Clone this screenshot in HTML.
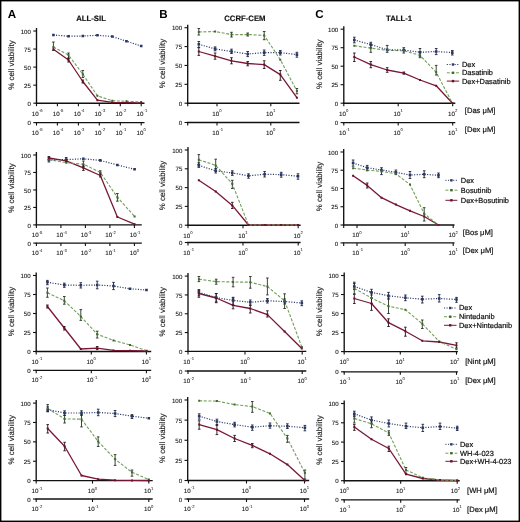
<!DOCTYPE html>
<html><head><meta charset="utf-8">
<style>
html,body{margin:0;padding:0;background:#fff;}
svg{display:block;filter:blur(0.3px);}
text{font-family:"Liberation Sans", sans-serif;fill:#111;text-rendering:geometricPrecision;}
.ax{stroke:#111;stroke-width:1.35;fill:none;}
.tk{stroke:#111;stroke-width:1.1;fill:none;}
.yl{font-size:6.1px;text-anchor:end;fill:#111;stroke:#222;stroke-width:0.1px;}
.xl{font-size:6.2px;fill:#111;stroke:#222;stroke-width:0.1px;}
.sp{font-size:4.2px;stroke-width:0.05px;fill:#333;}
.ylab{font-size:7.95px;text-anchor:middle;fill:#222;stroke:#222;stroke-width:0.15px;}
.lg{font-size:7.45px;fill:#111;stroke:#111;stroke-width:0.2px;}
.un{font-size:7.6px;fill:#111;stroke:#111;stroke-width:0.2px;}
.gr{stroke:#749e5a;stroke-width:1.1;fill:none;stroke-dasharray:3 1.6;}
.bl{stroke:#2a3766;stroke-width:1.2;fill:none;stroke-dasharray:1.1 1.5;}
.rd{stroke:#7a1836;stroke-width:1.3;fill:none;stroke-linejoin:round;}
.eb{stroke:#161a18;stroke-width:0.9;fill:none;}
.ttl{font-size:7.75px;font-weight:bold;fill:#111;stroke:#111;stroke-width:0.15px;}
.let{font-size:11.6px;font-weight:bold;fill:#000;}
</style></head>
<body>
<svg width="520" height="522" viewBox="0 0 520 522">
<rect x="0" y="0" width="520" height="522" fill="#fff"/>
<rect x="0.6" y="0.6" width="518.8" height="520.8" fill="none" stroke="#000" stroke-width="1.6"/>
<text x="7.8" y="17.6" class="let">A</text>
<text x="159.3" y="17.7" class="let">B</text>
<text x="315.3" y="17.7" class="let">C</text>
<text x="76.2" y="21.0" class="ttl">ALL-SIL</text>
<text x="224.2" y="21.3" class="ttl">CCRF-CEM</text>
<text x="386.0" y="21.4" class="ttl">TALL-1</text>
<path d="M36.5 28V103.2" class="ax"/>
<path d="M33.3 103.2H36.5" class="tk"/>
<text x="30.9" y="105.8" class="yl">0</text>
<path d="M33.3 85.15H36.5" class="tk"/>
<text x="30.9" y="87.75" class="yl">25</text>
<path d="M33.3 67.1H36.5" class="tk"/>
<text x="30.9" y="69.7" class="yl">50</text>
<path d="M33.3 49.05H36.5" class="tk"/>
<text x="30.9" y="51.65" class="yl">75</text>
<path d="M33.3 31H36.5" class="tk"/>
<text x="30.9" y="33.6" class="yl">100</text>
<path d="M35.7 103.2H144.5" class="ax"/>
<path d="M36.5 103.2V106.2" class="tk"/>
<text x="31.8" y="115.6" class="xl">10<tspan dx="0.1" dy="-3.5" class="sp">-6</tspan></text>
<path d="M57.4 103.2V106.2" class="tk"/>
<text x="52.7" y="115.6" class="xl">10<tspan dx="0.1" dy="-3.5" class="sp">-5</tspan></text>
<path d="M78.4 103.2V106.2" class="tk"/>
<text x="73.7" y="115.6" class="xl">10<tspan dx="0.1" dy="-3.5" class="sp">-4</tspan></text>
<path d="M99.3 103.2V106.2" class="tk"/>
<text x="94.6" y="115.6" class="xl">10<tspan dx="0.1" dy="-3.5" class="sp">-3</tspan></text>
<path d="M120.3 103.2V106.2" class="tk"/>
<text x="115.6" y="115.6" class="xl">10<tspan dx="0.1" dy="-3.5" class="sp">-2</tspan></text>
<path d="M141.2 103.2V106.2" class="tk"/>
<text x="136.5" y="115.6" class="xl">10<tspan dx="0.1" dy="-3.5" class="sp">-1</tspan></text>
<path d="M35.7 122.6H144.5" class="ax"/>
<path d="M33.3 122.6H36.5" class="tk"/>
<text x="30.9" y="125.2" class="yl">0</text>
<path d="M36.5 122.6V125.6" class="tk"/>
<text x="31.8" y="134.6" class="xl">10<tspan dx="0.1" dy="-3.5" class="sp">-5</tspan></text>
<path d="M57.4 122.6V125.6" class="tk"/>
<text x="52.7" y="134.6" class="xl">10<tspan dx="0.1" dy="-3.5" class="sp">-4</tspan></text>
<path d="M78.4 122.6V125.6" class="tk"/>
<text x="73.7" y="134.6" class="xl">10<tspan dx="0.1" dy="-3.5" class="sp">-3</tspan></text>
<path d="M99.3 122.6V125.6" class="tk"/>
<text x="94.6" y="134.6" class="xl">10<tspan dx="0.1" dy="-3.5" class="sp">-2</tspan></text>
<path d="M120.3 122.6V125.6" class="tk"/>
<text x="115.6" y="134.6" class="xl">10<tspan dx="0.1" dy="-3.5" class="sp">-1</tspan></text>
<path d="M141.2 122.6V125.6" class="tk"/>
<text x="136.5" y="134.6" class="xl">10<tspan dx="0.1" dy="-3.5" class="sp">0</tspan></text>
<text transform="translate(13.7 65.1) rotate(-90)" class="ylab">% cell viability</text>
<polyline points="53.4,49.2 68.5,60 82.8,81.5 97.4,100.2 112.3,102.4 126.5,102.7 141.2,103" class="rd"/>
<polyline points="53.4,47 68.5,55 82.8,74.2 97.4,95.8 112.3,100.8 126.5,101.3 141.2,102" class="gr"/>
<polyline points="53.4,35 68.5,36.2 82.8,36 97.4,35.3 112.3,36.5 126.5,41.2 141.2,46" class="bl"/>
<path d="M53.4 42V50.5M52.1 42h2.6M52.1 50.5h2.6M68.5 53V58.5M67.2 53h2.6M67.2 58.5h2.6M82.8 70.5V77.5M81.5 70.5h2.6M81.5 77.5h2.6" class="eb" style="stroke:#263224"/>
<path d="M68.5 58V62M67.2 58h2.6M67.2 62h2.6M82.8 80V83M81.5 80h2.6M81.5 83h2.6" class="eb" style="stroke:#2a1418"/>
<path d="M52.1 33.7h2.6v2.6h-2.6zM67.2 34.9h2.6v2.6h-2.6zM81.5 34.7h2.6v2.6h-2.6zM96.1 34h2.6v2.6h-2.6zM111 35.2h2.6v2.6h-2.6zM125.2 39.9h2.6v2.6h-2.6zM139.9 44.7h2.6v2.6h-2.6z" fill="#2a3766" stroke="none"/>
<path d="M52.4 46h2v2h-2zM67.5 54h2v2h-2zM81.8 73.2h2v2h-2zM96.4 94.8h2v2h-2zM111.3 99.8h2v2h-2zM125.5 100.3h2v2h-2zM140.2 101h2v2h-2z" fill="#3e6a2c" stroke="none"/>
<path d="M52.4 48.2h2v2h-2zM67.5 59h2v2h-2zM81.8 80.5h2v2h-2zM96.4 99.2h2v2h-2zM111.3 101.4h2v2h-2zM125.5 101.7h2v2h-2zM140.2 102h2v2h-2z" fill="#6a1028" stroke="none"/>
<path d="M187.7 24.7V103.2" class="ax"/>
<path d="M184.5 103.2H187.7" class="tk"/>
<text x="182.1" y="105.8" class="yl">0</text>
<path d="M184.5 84.33H187.7" class="tk"/>
<text x="182.1" y="86.92" class="yl">25</text>
<path d="M184.5 65.45H187.7" class="tk"/>
<text x="182.1" y="68.05" class="yl">50</text>
<path d="M184.5 46.58H187.7" class="tk"/>
<text x="182.1" y="49.18" class="yl">75</text>
<path d="M184.5 27.7H187.7" class="tk"/>
<text x="182.1" y="30.3" class="yl">100</text>
<path d="M186.9 103.2H299.5" class="ax"/>
<path d="M187.7 103.2V106.2" class="tk"/>
<path d="M217 103.2V106.2" class="tk"/>
<text x="212.3" y="115.6" class="xl">10<tspan dx="0.1" dy="-3.5" class="sp">0</tspan></text>
<path d="M270.8 103.2V106.2" class="tk"/>
<text x="266.1" y="115.6" class="xl">10<tspan dx="0.1" dy="-3.5" class="sp">1</tspan></text>
<path d="M186.9 122.5H299.5" class="ax"/>
<path d="M184.5 122.5H187.7" class="tk"/>
<text x="182.1" y="125.1" class="yl">0</text>
<path d="M187.7 122.5V125.5" class="tk"/>
<path d="M217 122.5V125.5" class="tk"/>
<text x="212.3" y="134.5" class="xl">10<tspan dx="0.1" dy="-3.5" class="sp">-1</tspan></text>
<path d="M270.8 122.5V125.5" class="tk"/>
<text x="266.1" y="134.5" class="xl">10<tspan dx="0.1" dy="-3.5" class="sp">0</tspan></text>
<text transform="translate(165.4 63.45) rotate(-90)" class="ylab">% cell viability</text>
<polyline points="198.8,51.5 215.1,56.2 231.5,60.8 247.7,63.5 264.2,64.6 280.3,74.6 296.9,97.7" class="rd"/>
<polyline points="198.8,32 215.1,31.5 231.5,34.6 247.7,34.6 264.2,35.4 280.3,59.7 296.9,91" class="gr"/>
<polyline points="198.8,44.3 215.1,48.9 231.5,51.5 247.7,54 264.2,52.6 280.3,52.6 296.9,54.6" class="bl"/>
<path d="M198.8 28.5V35M197.5 28.5h2.6M197.5 35h2.6M231.5 32.3V37M230.2 32.3h2.6M230.2 37h2.6M247.7 33V36M246.4 33h2.6M246.4 36h2.6M264.2 31.5V39.7M262.9 31.5h2.6M262.9 39.7h2.6M296.9 88.5V93.8M295.6 88.5h2.6M295.6 93.8h2.6" class="eb" style="stroke:#263224"/>
<path d="M198.8 41.5V47.4M197.5 41.5h2.6M197.5 47.4h2.6M215.1 46.9V50.8M213.8 46.9h2.6M213.8 50.8h2.6M231.5 49.2V53.5M230.2 49.2h2.6M230.2 53.5h2.6M247.7 51.5V56.6M246.4 51.5h2.6M246.4 56.6h2.6M264.2 50V55.4M262.9 50h2.6M262.9 55.4h2.6M280.3 50.5V55M279 50.5h2.6M279 55h2.6M296.9 52.3V57.2M295.6 52.3h2.6M295.6 57.2h2.6" class="eb" style="stroke:#1e2440"/>
<path d="M198.8 47.7V55.4M197.5 47.7h2.6M197.5 55.4h2.6M215.1 53V59.2M213.8 53h2.6M213.8 59.2h2.6M231.5 57.7V63.8M230.2 57.7h2.6M230.2 63.8h2.6M247.7 61.5V65.8M246.4 61.5h2.6M246.4 65.8h2.6M264.2 60.8V68.5M262.9 60.8h2.6M262.9 68.5h2.6M280.3 70.5V80.3M279 70.5h2.6M279 80.3h2.6" class="eb" style="stroke:#2a1418"/>
<path d="M197.5 43h2.6v2.6h-2.6zM213.8 47.6h2.6v2.6h-2.6zM230.2 50.2h2.6v2.6h-2.6zM246.4 52.7h2.6v2.6h-2.6zM262.9 51.3h2.6v2.6h-2.6zM279 51.3h2.6v2.6h-2.6zM295.6 53.3h2.6v2.6h-2.6z" fill="#2a3766" stroke="none"/>
<path d="M197.8 31h2v2h-2zM214.1 30.5h2v2h-2zM230.5 33.6h2v2h-2zM246.7 33.6h2v2h-2zM263.2 34.4h2v2h-2zM279.3 58.7h2v2h-2zM295.9 90h2v2h-2z" fill="#3e6a2c" stroke="none"/>
<path d="M197.8 50.5h2v2h-2zM214.1 55.2h2v2h-2zM230.5 59.8h2v2h-2zM246.7 62.5h2v2h-2zM263.2 63.6h2v2h-2zM279.3 73.6h2v2h-2zM295.9 96.7h2v2h-2z" fill="#6a1028" stroke="none"/>
<path d="M343.8 26.2V103.2" class="ax"/>
<path d="M340.6 103.2H343.8" class="tk"/>
<text x="338.2" y="105.8" class="yl">0</text>
<path d="M340.6 84.7H343.8" class="tk"/>
<text x="338.2" y="87.3" class="yl">25</text>
<path d="M340.6 66.2H343.8" class="tk"/>
<text x="338.2" y="68.8" class="yl">50</text>
<path d="M340.6 47.7H343.8" class="tk"/>
<text x="338.2" y="50.3" class="yl">75</text>
<path d="M340.6 29.2H343.8" class="tk"/>
<text x="338.2" y="31.8" class="yl">100</text>
<path d="M343 103.2H455.3" class="ax"/>
<path d="M343.8 103.2V106.2" class="tk"/>
<text x="339.1" y="115.6" class="xl">10<tspan dx="0.1" dy="-3.5" class="sp">0</tspan></text>
<path d="M398.2 103.2V106.2" class="tk"/>
<text x="393.5" y="115.6" class="xl">10<tspan dx="0.1" dy="-3.5" class="sp">1</tspan></text>
<path d="M452.7 103.2V106.2" class="tk"/>
<text x="448" y="115.6" class="xl">10<tspan dx="0.1" dy="-3.5" class="sp">2</tspan></text>
<path d="M343 122.6H455.3" class="ax"/>
<path d="M340.6 122.6H343.8" class="tk"/>
<text x="338.2" y="125.2" class="yl">0</text>
<path d="M343.8 122.6V125.6" class="tk"/>
<text x="339.1" y="134.6" class="xl">10<tspan dx="0.1" dy="-3.5" class="sp">-1</tspan></text>
<path d="M398.2 122.6V125.6" class="tk"/>
<text x="393.5" y="134.6" class="xl">10<tspan dx="0.1" dy="-3.5" class="sp">0</tspan></text>
<path d="M452.7 122.6V125.6" class="tk"/>
<text x="448" y="134.6" class="xl">10<tspan dx="0.1" dy="-3.5" class="sp">1</tspan></text>
<text transform="translate(321.9 64.2) rotate(-90)" class="ylab">% cell viability</text>
<polyline points="354.3,57 370.8,64.6 387.2,70 403.8,73.1 420,80 436.2,85.8 452.3,103" class="rd"/>
<polyline points="354.3,45.7 370.8,48.2 387.2,50.3 403.8,50.8 420,55.4 436.2,72.3 452.3,103" class="gr"/>
<polyline points="354.3,40 370.8,44.6 387.2,49.7 403.8,50 420,52.3 436.2,51.5 452.3,52.6" class="bl"/>
<path d="M370.8 44.6V52.3M369.5 44.6h2.6M369.5 52.3h2.6M420 51.5V57.7M418.7 51.5h2.6M418.7 57.7h2.6M436.2 65.4V75M434.9 65.4h2.6M434.9 75h2.6" class="eb" style="stroke:#263224"/>
<path d="M354.3 37.2V42.8M353 37.2h2.6M353 42.8h2.6M370.8 42.3V47.7M369.5 42.3h2.6M369.5 47.7h2.6M387.2 45.4V52.3M385.9 45.4h2.6M385.9 52.3h2.6M403.8 47.7V53M402.5 47.7h2.6M402.5 53h2.6M420 48.5V56.2M418.7 48.5h2.6M418.7 56.2h2.6M436.2 48.5V54.6M434.9 48.5h2.6M434.9 54.6h2.6M452.3 50.5V55M451 50.5h2.6M451 55h2.6" class="eb" style="stroke:#1e2440"/>
<path d="M354.3 53V61.5M353 53h2.6M353 61.5h2.6M370.8 61.5V67.7M369.5 61.5h2.6M369.5 67.7h2.6M387.2 67.7V72.3M385.9 67.7h2.6M385.9 72.3h2.6M403.8 72V74.2M402.5 72h2.6M402.5 74.2h2.6" class="eb" style="stroke:#2a1418"/>
<path d="M353 38.7h2.6v2.6h-2.6zM369.5 43.3h2.6v2.6h-2.6zM385.9 48.4h2.6v2.6h-2.6zM402.5 48.7h2.6v2.6h-2.6zM418.7 51h2.6v2.6h-2.6zM434.9 50.2h2.6v2.6h-2.6zM451 51.3h2.6v2.6h-2.6z" fill="#2a3766" stroke="none"/>
<path d="M353.3 44.7h2v2h-2zM369.8 47.2h2v2h-2zM386.2 49.3h2v2h-2zM402.8 49.8h2v2h-2zM419 54.4h2v2h-2zM435.2 71.3h2v2h-2zM451.3 102h2v2h-2z" fill="#3e6a2c" stroke="none"/>
<path d="M353.3 56h2v2h-2zM369.8 63.6h2v2h-2zM386.2 69h2v2h-2zM402.8 72.1h2v2h-2zM419 79h2v2h-2zM435.2 84.8h2v2h-2zM451.3 102h2v2h-2z" fill="#6a1028" stroke="none"/>
<path d="M446.8 64.5H459.2" class="bl" style="stroke-width:1.0"/>
<path d="M451.8 63.3h2.4v2.4h-2.4z" fill="#2a3766" stroke="none"/>
<text x="462" y="66.9" class="lg">Dex</text>
<path d="M446.8 72.8H459.2" class="gr" style="stroke-width:1.0"/>
<path d="M451.8 71.6h2.4v2.4h-2.4z" fill="#3e6a2c" stroke="none"/>
<text x="462" y="75.2" class="lg">Dasatinib</text>
<path d="M446.8 81.1H459.2" class="rd" style="stroke-width:1.0"/>
<path d="M451.8 79.9h2.4v2.4h-2.4z" fill="#6a1028" stroke="none"/>
<text x="462" y="83.5" class="lg">Dex+Dasatinib</text>
<text x="464.8" y="112.9" class="un">[Das μM]</text>
<text x="464.8" y="132" class="un">[Dex μM]</text>
<path d="M36.4 152V224.9" class="ax"/>
<path d="M33.2 224.9H36.4" class="tk"/>
<text x="30.8" y="227.5" class="yl">0</text>
<path d="M33.2 207.43H36.4" class="tk"/>
<text x="30.8" y="210.03" class="yl">25</text>
<path d="M33.2 189.95H36.4" class="tk"/>
<text x="30.8" y="192.55" class="yl">50</text>
<path d="M33.2 172.48H36.4" class="tk"/>
<text x="30.8" y="175.08" class="yl">75</text>
<path d="M33.2 155H36.4" class="tk"/>
<text x="30.8" y="157.6" class="yl">100</text>
<path d="M35.6 224.9H141.8" class="ax"/>
<path d="M36.4 224.9V227.9" class="tk"/>
<text x="31.7" y="237.3" class="xl">10<tspan dx="0.1" dy="-3.5" class="sp">-5</tspan></text>
<path d="M60.9 224.9V227.9" class="tk"/>
<text x="56.2" y="237.3" class="xl">10<tspan dx="0.1" dy="-3.5" class="sp">-4</tspan></text>
<path d="M85.4 224.9V227.9" class="tk"/>
<text x="80.7" y="237.3" class="xl">10<tspan dx="0.1" dy="-3.5" class="sp">-3</tspan></text>
<path d="M109.9 224.9V227.9" class="tk"/>
<text x="105.2" y="237.3" class="xl">10<tspan dx="0.1" dy="-3.5" class="sp">-2</tspan></text>
<path d="M134.4 224.9V227.9" class="tk"/>
<text x="129.7" y="237.3" class="xl">10<tspan dx="0.1" dy="-3.5" class="sp">-1</tspan></text>
<path d="M35.6 243.1H141.8" class="ax"/>
<path d="M33.2 243.1H36.4" class="tk"/>
<text x="30.8" y="245.7" class="yl">0</text>
<path d="M36.4 243.1V246.1" class="tk"/>
<text x="31.7" y="255.1" class="xl">10<tspan dx="0.1" dy="-3.5" class="sp">-4</tspan></text>
<path d="M60.9 243.1V246.1" class="tk"/>
<text x="56.2" y="255.1" class="xl">10<tspan dx="0.1" dy="-3.5" class="sp">-3</tspan></text>
<path d="M85.4 243.1V246.1" class="tk"/>
<text x="80.7" y="255.1" class="xl">10<tspan dx="0.1" dy="-3.5" class="sp">-2</tspan></text>
<path d="M109.9 243.1V246.1" class="tk"/>
<text x="105.2" y="255.1" class="xl">10<tspan dx="0.1" dy="-3.5" class="sp">-1</tspan></text>
<path d="M134.4 243.1V246.1" class="tk"/>
<text x="129.7" y="255.1" class="xl">10<tspan dx="0.1" dy="-3.5" class="sp">0</tspan></text>
<text transform="translate(13.7 187.95) rotate(-90)" class="ylab">% cell viability</text>
<polyline points="48.9,158 66.2,160.8 83.4,167.8 100.3,175.5 117.4,217 134.6,224.2" class="rd"/>
<polyline points="48.9,159.6 66.2,162.7 83.4,164.2 100.3,172.4 117.4,197.3 134.6,216.5" class="gr"/>
<polyline points="48.9,159.9 66.2,159.6 83.4,158.8 100.3,160.4 117.4,165 134.6,169.3" class="bl"/>
<path d="M83.4 161V166.5M82.1 161h2.6M82.1 166.5h2.6M100.3 170.8V174.2M99 170.8h2.6M99 174.2h2.6M117.4 193.5V201.2M116.1 193.5h2.6M116.1 201.2h2.6" class="eb" style="stroke:#263224"/>
<path d="M48.9 157.5V162M47.6 157.5h2.6M47.6 162h2.6M66.2 157.5V161.5M64.9 157.5h2.6M64.9 161.5h2.6" class="eb" style="stroke:#1e2440"/>
<path d="M48.9 156.5V159.6M47.6 156.5h2.6M47.6 159.6h2.6M83.4 165V170.4M82.1 165h2.6M82.1 170.4h2.6M100.3 173V177M99 173h2.6M99 177h2.6" class="eb" style="stroke:#2a1418"/>
<path d="M47.6 158.6h2.6v2.6h-2.6zM64.9 158.3h2.6v2.6h-2.6zM82.1 157.5h2.6v2.6h-2.6zM99 159.1h2.6v2.6h-2.6zM116.1 163.7h2.6v2.6h-2.6zM133.3 168h2.6v2.6h-2.6z" fill="#2a3766" stroke="none"/>
<path d="M47.9 158.6h2v2h-2zM65.2 161.7h2v2h-2zM82.4 163.2h2v2h-2zM99.3 171.4h2v2h-2zM116.4 196.3h2v2h-2zM133.6 215.5h2v2h-2z" fill="#3e6a2c" stroke="none"/>
<path d="M47.9 157h2v2h-2zM65.2 159.8h2v2h-2zM82.4 166.8h2v2h-2zM99.3 174.5h2v2h-2zM116.4 216h2v2h-2zM133.6 223.2h2v2h-2z" fill="#6a1028" stroke="none"/>
<path d="M188 147V225.2" class="ax"/>
<path d="M184.8 225.2H188" class="tk"/>
<text x="182.4" y="227.8" class="yl">0</text>
<path d="M184.8 206.4H188" class="tk"/>
<text x="182.4" y="209" class="yl">25</text>
<path d="M184.8 187.6H188" class="tk"/>
<text x="182.4" y="190.2" class="yl">50</text>
<path d="M184.8 168.8H188" class="tk"/>
<text x="182.4" y="171.4" class="yl">75</text>
<path d="M184.8 150H188" class="tk"/>
<text x="182.4" y="152.6" class="yl">100</text>
<path d="M187.2 225.2H300.6" class="ax"/>
<path d="M188 225.2V228.2" class="tk"/>
<text x="183.3" y="237.6" class="xl">10<tspan dx="0.1" dy="-3.5" class="sp">0</tspan></text>
<path d="M243 225.2V228.2" class="tk"/>
<text x="238.3" y="237.6" class="xl">10<tspan dx="0.1" dy="-3.5" class="sp">1</tspan></text>
<path d="M298.2 225.2V228.2" class="tk"/>
<text x="293.5" y="237.6" class="xl">10<tspan dx="0.1" dy="-3.5" class="sp">2</tspan></text>
<path d="M187.2 242.5H300.6" class="ax"/>
<path d="M184.8 242.5H188" class="tk"/>
<text x="182.4" y="245.1" class="yl">0</text>
<path d="M188 242.5V245.5" class="tk"/>
<text x="183.3" y="254.5" class="xl">10<tspan dx="0.1" dy="-3.5" class="sp">-1</tspan></text>
<path d="M243 242.5V245.5" class="tk"/>
<text x="238.3" y="254.5" class="xl">10<tspan dx="0.1" dy="-3.5" class="sp">0</tspan></text>
<path d="M298.2 242.5V245.5" class="tk"/>
<text x="293.5" y="254.5" class="xl">10<tspan dx="0.1" dy="-3.5" class="sp">1</tspan></text>
<text transform="translate(165.4 185.6) rotate(-90)" class="ylab">% cell viability</text>
<polyline points="198.8,180.3 215.7,191.5 232.3,205.4 248.5,225 264.6,225 281.2,225 298,225" class="rd"/>
<polyline points="198.8,159.7 215.7,165.4 232.3,183.8 248.5,225 264.6,225 281.2,225 298,225" class="gr"/>
<polyline points="198.8,165.4 215.7,170.8 232.3,173 248.5,175.8 264.6,174.3 281.2,174.6 298,176.2" class="bl"/>
<path d="M198.8 154.6V164.6M197.5 154.6h2.6M197.5 164.6h2.6M215.7 159.2V170.8M214.4 159.2h2.6M214.4 170.8h2.6M232.3 180.3V188.5M231 180.3h2.6M231 188.5h2.6" class="eb" style="stroke:#263224"/>
<path d="M198.8 162.8V167.4M197.5 162.8h2.6M197.5 167.4h2.6M215.7 168.5V173M214.4 168.5h2.6M214.4 173h2.6M232.3 170.8V175.4M231 170.8h2.6M231 175.4h2.6M248.5 173.8V178.2M247.2 173.8h2.6M247.2 178.2h2.6M264.6 171.5V177M263.3 171.5h2.6M263.3 177h2.6M281.2 172.3V177.2M279.9 172.3h2.6M279.9 177.2h2.6M298 173.8V179.2M296.7 173.8h2.6M296.7 179.2h2.6" class="eb" style="stroke:#1e2440"/>
<path d="M232.3 202.3V208.5M231 202.3h2.6M231 208.5h2.6" class="eb" style="stroke:#2a1418"/>
<path d="M197.5 164.1h2.6v2.6h-2.6zM214.4 169.5h2.6v2.6h-2.6zM231 171.7h2.6v2.6h-2.6zM247.2 174.5h2.6v2.6h-2.6zM263.3 173h2.6v2.6h-2.6zM279.9 173.3h2.6v2.6h-2.6zM296.7 174.9h2.6v2.6h-2.6z" fill="#2a3766" stroke="none"/>
<path d="M197.8 158.7h2v2h-2zM214.7 164.4h2v2h-2zM231.3 182.8h2v2h-2zM247.5 224h2v2h-2zM263.6 224h2v2h-2zM280.2 224h2v2h-2zM297 224h2v2h-2z" fill="#3e6a2c" stroke="none"/>
<path d="M197.8 179.3h2v2h-2zM214.7 190.5h2v2h-2zM231.3 204.4h2v2h-2zM247.5 224h2v2h-2zM263.6 224h2v2h-2zM280.2 224h2v2h-2zM297 224h2v2h-2z" fill="#6a1028" stroke="none"/>
<path d="M343.7 149V225" class="ax"/>
<path d="M340.5 225H343.7" class="tk"/>
<text x="338.1" y="227.6" class="yl">0</text>
<path d="M340.5 206.75H343.7" class="tk"/>
<text x="338.1" y="209.35" class="yl">25</text>
<path d="M340.5 188.5H343.7" class="tk"/>
<text x="338.1" y="191.1" class="yl">50</text>
<path d="M340.5 170.25H343.7" class="tk"/>
<text x="338.1" y="172.85" class="yl">75</text>
<path d="M340.5 152H343.7" class="tk"/>
<text x="338.1" y="154.6" class="yl">100</text>
<path d="M342.9 225H454.5" class="ax"/>
<path d="M343.7 225V228" class="tk"/>
<path d="M357 225V228" class="tk"/>
<text x="352.3" y="237.4" class="xl">10<tspan dx="0.1" dy="-3.5" class="sp">0</tspan></text>
<path d="M405.2 225V228" class="tk"/>
<text x="400.5" y="237.4" class="xl">10<tspan dx="0.1" dy="-3.5" class="sp">1</tspan></text>
<path d="M453.2 225V228" class="tk"/>
<text x="448.5" y="237.4" class="xl">10<tspan dx="0.1" dy="-3.5" class="sp">2</tspan></text>
<path d="M342.9 242.9H454.5" class="ax"/>
<path d="M340.5 242.9H343.7" class="tk"/>
<text x="338.1" y="245.5" class="yl">0</text>
<path d="M343.7 242.9V245.9" class="tk"/>
<path d="M357 242.9V245.9" class="tk"/>
<text x="352.3" y="254.9" class="xl">10<tspan dx="0.1" dy="-3.5" class="sp">-1</tspan></text>
<path d="M405.2 242.9V245.9" class="tk"/>
<text x="400.5" y="254.9" class="xl">10<tspan dx="0.1" dy="-3.5" class="sp">0</tspan></text>
<path d="M453.2 242.9V245.9" class="tk"/>
<text x="448.5" y="254.9" class="xl">10<tspan dx="0.1" dy="-3.5" class="sp">1</tspan></text>
<text transform="translate(321.9 186.5) rotate(-90)" class="ylab">% cell viability</text>
<polyline points="353.1,175.7 367.2,185.4 381.5,197.7 395.9,204.6 410,210.8 424.2,216.5 438.5,225" class="rd"/>
<polyline points="353.1,168.2 367.2,170 381.5,171.5 395.9,173.8 410,184.6 424.2,213.8 438.5,225" class="gr"/>
<polyline points="353.1,163 367.2,167.7 381.5,170 395.9,172.3 410,175 424.2,174.3 438.5,175.4" class="bl"/>
<path d="M424.2 207.7V221M422.9 207.7h2.6M422.9 221h2.6" class="eb" style="stroke:#263224"/>
<path d="M353.1 160V166.2M351.8 160h2.6M351.8 166.2h2.6M367.2 165.4V170.8M365.9 165.4h2.6M365.9 170.8h2.6M381.5 167.7V174.6M380.2 167.7h2.6M380.2 174.6h2.6M395.9 170V174.6M394.6 170h2.6M394.6 174.6h2.6M410 171.5V178.5M408.7 171.5h2.6M408.7 178.5h2.6M424.2 170.8V177.7M422.9 170.8h2.6M422.9 177.7h2.6M438.5 173V177.7M437.2 173h2.6M437.2 177.7h2.6" class="eb" style="stroke:#1e2440"/>
<path d="M367.2 183V188M365.9 183h2.6M365.9 188h2.6" class="eb" style="stroke:#2a1418"/>
<path d="M351.8 161.7h2.6v2.6h-2.6zM365.9 166.4h2.6v2.6h-2.6zM380.2 168.7h2.6v2.6h-2.6zM394.6 171h2.6v2.6h-2.6zM408.7 173.7h2.6v2.6h-2.6zM422.9 173h2.6v2.6h-2.6zM437.2 174.1h2.6v2.6h-2.6z" fill="#2a3766" stroke="none"/>
<path d="M352.1 167.2h2v2h-2zM366.2 169h2v2h-2zM380.5 170.5h2v2h-2zM394.9 172.8h2v2h-2zM409 183.6h2v2h-2zM423.2 212.8h2v2h-2zM437.5 224h2v2h-2z" fill="#3e6a2c" stroke="none"/>
<path d="M352.1 174.7h2v2h-2zM366.2 184.4h2v2h-2zM380.5 196.7h2v2h-2zM394.9 203.6h2v2h-2zM409 209.8h2v2h-2zM423.2 215.5h2v2h-2zM437.5 224h2v2h-2z" fill="#6a1028" stroke="none"/>
<path d="M445.4 180.3H457.4" class="bl" style="stroke-width:1.0"/>
<path d="M450.2 179.1h2.4v2.4h-2.4z" fill="#2a3766" stroke="none"/>
<text x="460.8" y="182.7" class="lg">Dex</text>
<path d="M445.4 190.2H457.4" class="gr" style="stroke-width:1.0"/>
<path d="M450.2 189h2.4v2.4h-2.4z" fill="#3e6a2c" stroke="none"/>
<text x="460.8" y="192.6" class="lg">Bosutinib</text>
<path d="M445.4 200.3H457.4" class="rd" style="stroke-width:1.0"/>
<path d="M450.2 199.1h2.4v2.4h-2.4z" fill="#6a1028" stroke="none"/>
<text x="460.8" y="202.7" class="lg">Dex+Bosutinib</text>
<text x="462.8" y="235" class="un">[Bos μM]</text>
<text x="462.8" y="252.5" class="un">[Dex μM]</text>
<path d="M36.2 272.5V351.5" class="ax"/>
<path d="M33 351.5H36.2" class="tk"/>
<text x="30.6" y="354.1" class="yl">0</text>
<path d="M33 332.5H36.2" class="tk"/>
<text x="30.6" y="335.1" class="yl">25</text>
<path d="M33 313.5H36.2" class="tk"/>
<text x="30.6" y="316.1" class="yl">50</text>
<path d="M33 294.5H36.2" class="tk"/>
<text x="30.6" y="297.1" class="yl">75</text>
<path d="M33 275.5H36.2" class="tk"/>
<text x="30.6" y="278.1" class="yl">100</text>
<path d="M35.4 351.5H151.2" class="ax"/>
<path d="M36.2 351.5V354.5" class="tk"/>
<text x="31.5" y="363.9" class="xl">10<tspan dx="0.1" dy="-3.5" class="sp">-1</tspan></text>
<path d="M91.3 351.5V354.5" class="tk"/>
<text x="86.6" y="363.9" class="xl">10<tspan dx="0.1" dy="-3.5" class="sp">0</tspan></text>
<path d="M146.4 351.5V354.5" class="tk"/>
<text x="141.7" y="363.9" class="xl">10<tspan dx="0.1" dy="-3.5" class="sp">1</tspan></text>
<path d="M35.4 370.3H151.2" class="ax"/>
<path d="M33 370.3H36.2" class="tk"/>
<text x="30.6" y="372.9" class="yl">0</text>
<path d="M36.2 370.3V373.3" class="tk"/>
<text x="31.5" y="382.3" class="xl">10<tspan dx="0.1" dy="-3.5" class="sp">-2</tspan></text>
<path d="M91.3 370.3V373.3" class="tk"/>
<text x="86.6" y="382.3" class="xl">10<tspan dx="0.1" dy="-3.5" class="sp">-1</tspan></text>
<path d="M146.4 370.3V373.3" class="tk"/>
<text x="141.7" y="382.3" class="xl">10<tspan dx="0.1" dy="-3.5" class="sp">0</tspan></text>
<text transform="translate(13.7 311.5) rotate(-90)" class="ylab">% cell viability</text>
<polyline points="47.4,306.5 64.3,328 80.8,349 97.2,348.2 113.5,350.4 130,350.7 146.5,351" class="rd"/>
<polyline points="47.4,292.7 64.3,300.7 80.8,316.5 97.2,334.2 113.5,340.4 130,345 146.5,350.7" class="gr"/>
<polyline points="47.4,282.2 64.3,285 80.8,285.3 97.2,285 113.5,286 130,288.8 146.5,290" class="bl"/>
<path d="M47.4 288V297.3M46.1 288h2.6M46.1 297.3h2.6M64.3 296.5V304.2M63 296.5h2.6M63 304.2h2.6M80.8 309.6V320.4M79.5 309.6h2.6M79.5 320.4h2.6M97.2 331.2V338M95.9 331.2h2.6M95.9 338h2.6" class="eb" style="stroke:#263224"/>
<path d="M47.4 280.4V284.7M46.1 280.4h2.6M46.1 284.7h2.6M64.3 283.2V287.3M63 283.2h2.6M63 287.3h2.6M80.8 282.7V288M79.5 282.7h2.6M79.5 288h2.6M97.2 281.2V288.8M95.9 281.2h2.6M95.9 288.8h2.6M113.5 282.4V289.6M112.2 282.4h2.6M112.2 289.6h2.6" class="eb" style="stroke:#1e2440"/>
<path d="M47.4 305V308M46.1 305h2.6M46.1 308h2.6M64.3 326.5V330M63 326.5h2.6M63 330h2.6M97.2 346.5V349.6M95.9 346.5h2.6M95.9 349.6h2.6" class="eb" style="stroke:#2a1418"/>
<path d="M46.1 280.9h2.6v2.6h-2.6zM63 283.7h2.6v2.6h-2.6zM79.5 284h2.6v2.6h-2.6zM95.9 283.7h2.6v2.6h-2.6zM112.2 284.7h2.6v2.6h-2.6zM128.7 287.5h2.6v2.6h-2.6zM145.2 288.7h2.6v2.6h-2.6z" fill="#2a3766" stroke="none"/>
<path d="M46.4 291.7h2v2h-2zM63.3 299.7h2v2h-2zM79.8 315.5h2v2h-2zM96.2 333.2h2v2h-2zM112.5 339.4h2v2h-2zM129 344h2v2h-2zM145.5 349.7h2v2h-2z" fill="#3e6a2c" stroke="none"/>
<path d="M46.4 305.5h2v2h-2zM63.3 327h2v2h-2zM79.8 348h2v2h-2zM96.2 347.2h2v2h-2zM112.5 349.4h2v2h-2zM129 349.7h2v2h-2zM145.5 350h2v2h-2z" fill="#6a1028" stroke="none"/>
<path d="M188 273.1V351.4" class="ax"/>
<path d="M184.8 351.4H188" class="tk"/>
<text x="182.4" y="354" class="yl">0</text>
<path d="M184.8 332.57H188" class="tk"/>
<text x="182.4" y="335.18" class="yl">25</text>
<path d="M184.8 313.75H188" class="tk"/>
<text x="182.4" y="316.35" class="yl">50</text>
<path d="M184.8 294.93H188" class="tk"/>
<text x="182.4" y="297.53" class="yl">75</text>
<path d="M184.8 276.1H188" class="tk"/>
<text x="182.4" y="278.7" class="yl">100</text>
<path d="M187.2 351.4H306.3" class="ax"/>
<path d="M188 351.4V354.4" class="tk"/>
<text x="183.3" y="363.8" class="xl">10<tspan dx="0.1" dy="-3.5" class="sp">-1</tspan></text>
<path d="M245 351.4V354.4" class="tk"/>
<text x="240.3" y="363.8" class="xl">10<tspan dx="0.1" dy="-3.5" class="sp">0</tspan></text>
<path d="M302.2 351.4V354.4" class="tk"/>
<text x="297.5" y="363.8" class="xl">10<tspan dx="0.1" dy="-3.5" class="sp">1</tspan></text>
<path d="M187.2 371H306.3" class="ax"/>
<path d="M184.8 371H188" class="tk"/>
<text x="182.4" y="373.6" class="yl">0</text>
<path d="M188 371V374" class="tk"/>
<text x="183.3" y="383" class="xl">10<tspan dx="0.1" dy="-3.5" class="sp">-2</tspan></text>
<path d="M245 371V374" class="tk"/>
<text x="240.3" y="383" class="xl">10<tspan dx="0.1" dy="-3.5" class="sp">-1</tspan></text>
<path d="M302.2 371V374" class="tk"/>
<text x="297.5" y="383" class="xl">10<tspan dx="0.1" dy="-3.5" class="sp">0</tspan></text>
<text transform="translate(165.4 311.75) rotate(-90)" class="ylab">% cell viability</text>
<polyline points="198.9,293.5 216.2,298 233.1,305.3 250.3,308.5 267.4,314.6 284.6,331.5 301.8,348.5" class="rd"/>
<polyline points="198.9,279.2 216.2,281.6 233.1,282 250.3,282.2 267.4,286.6 284.6,300.8 301.8,347" class="gr"/>
<polyline points="198.9,292.4 216.2,297.6 233.1,300.4 250.3,302.3 267.4,300.8 284.6,301.5 301.8,303" class="bl"/>
<path d="M198.9 276.5V281.6M197.6 276.5h2.6M197.6 281.6h2.6M216.2 279.2V284.2M214.9 279.2h2.6M214.9 284.2h2.6M233.1 277.3V286.8M231.8 277.3h2.6M231.8 286.8h2.6M250.3 276.5V288.2M249 276.5h2.6M249 288.2h2.6M267.4 278V294.9M266.1 278h2.6M266.1 294.9h2.6M284.6 293.8V308.5M283.3 293.8h2.6M283.3 308.5h2.6" class="eb" style="stroke:#263224"/>
<path d="M198.9 289.6V295.8M197.6 289.6h2.6M197.6 295.8h2.6M216.2 293.5V301.9M214.9 293.5h2.6M214.9 301.9h2.6M233.1 297.3V305M231.8 297.3h2.6M231.8 305h2.6M250.3 300V305M249 300h2.6M249 305h2.6M267.4 298.5V303M266.1 298.5h2.6M266.1 303h2.6M284.6 299V304M283.3 299h2.6M283.3 304h2.6M301.8 300.8V305.7M300.5 300.8h2.6M300.5 305.7h2.6" class="eb" style="stroke:#1e2440"/>
<path d="M198.9 290.4V297.3M197.6 290.4h2.6M197.6 297.3h2.6M216.2 293.5V302.7M214.9 293.5h2.6M214.9 302.7h2.6M233.1 298V308.8M231.8 298h2.6M231.8 308.8h2.6M250.3 305.4V313M249 305.4h2.6M249 313h2.6M267.4 310.8V317M266.1 310.8h2.6M266.1 317h2.6" class="eb" style="stroke:#2a1418"/>
<path d="M197.6 291.1h2.6v2.6h-2.6zM214.9 296.3h2.6v2.6h-2.6zM231.8 299.1h2.6v2.6h-2.6zM249 301h2.6v2.6h-2.6zM266.1 299.5h2.6v2.6h-2.6zM283.3 300.2h2.6v2.6h-2.6zM300.5 301.7h2.6v2.6h-2.6z" fill="#2a3766" stroke="none"/>
<path d="M197.9 278.2h2v2h-2zM215.2 280.6h2v2h-2zM232.1 281h2v2h-2zM249.3 281.2h2v2h-2zM266.4 285.6h2v2h-2zM283.6 299.8h2v2h-2zM300.8 346h2v2h-2z" fill="#3e6a2c" stroke="none"/>
<path d="M197.9 292.5h2v2h-2zM215.2 297h2v2h-2zM232.1 304.3h2v2h-2zM249.3 307.5h2v2h-2zM266.4 313.6h2v2h-2zM283.6 330.5h2v2h-2zM300.8 347.5h2v2h-2z" fill="#6a1028" stroke="none"/>
<path d="M344.2 272.5V351.6" class="ax"/>
<path d="M341 351.6H344.2" class="tk"/>
<text x="338.6" y="354.2" class="yl">0</text>
<path d="M341 332.58H344.2" class="tk"/>
<text x="338.6" y="335.18" class="yl">25</text>
<path d="M341 313.55H344.2" class="tk"/>
<text x="338.6" y="316.15" class="yl">50</text>
<path d="M341 294.52H344.2" class="tk"/>
<text x="338.6" y="297.12" class="yl">75</text>
<path d="M341 275.5H344.2" class="tk"/>
<text x="338.6" y="278.1" class="yl">100</text>
<path d="M343.4 351.6H457.9" class="ax"/>
<path d="M344.2 351.6V354.6" class="tk"/>
<text x="339.5" y="364" class="xl">10<tspan dx="0.1" dy="-3.5" class="sp">0</tspan></text>
<path d="M400.3 351.6V354.6" class="tk"/>
<text x="395.6" y="364" class="xl">10<tspan dx="0.1" dy="-3.5" class="sp">1</tspan></text>
<path d="M456.5 351.6V354.6" class="tk"/>
<text x="450" y="364" class="xl">10<tspan dx="0.1" dy="-3.5" class="sp">2</tspan></text>
<path d="M343.4 371.8H457.9" class="ax"/>
<path d="M341 371.8H344.2" class="tk"/>
<text x="338.6" y="374.4" class="yl">0</text>
<path d="M344.2 371.8V374.8" class="tk"/>
<text x="339.5" y="383.8" class="xl">10<tspan dx="0.1" dy="-3.5" class="sp">-1</tspan></text>
<path d="M400.3 371.8V374.8" class="tk"/>
<text x="395.6" y="383.8" class="xl">10<tspan dx="0.1" dy="-3.5" class="sp">0</tspan></text>
<path d="M456.5 371.8V374.8" class="tk"/>
<text x="450" y="383.8" class="xl">10<tspan dx="0.1" dy="-3.5" class="sp">1</tspan></text>
<text transform="translate(321.9 311.55) rotate(-90)" class="ylab">% cell viability</text>
<polyline points="354.3,298.5 371.5,303.5 388.5,322.7 405.4,331.2 422.3,340.8 439.2,342 456.5,345.4" class="rd"/>
<polyline points="354.3,288.4 371.5,298 388.5,306.2 405.4,309.7 422.3,323.8 439.2,341.5 456.5,349.2" class="gr"/>
<polyline points="354.3,286.5 371.5,292.4 388.5,295.8 405.4,297.8 422.3,299.2 439.2,298.5 456.5,299.5" class="bl"/>
<path d="M354.3 283.5V294M353 283.5h2.6M353 294h2.6M371.5 292.7V303.5M370.2 292.7h2.6M370.2 303.5h2.6M388.5 298V313.5M387.2 298h2.6M387.2 313.5h2.6M422.3 320V328.5M421 320h2.6M421 328.5h2.6" class="eb" style="stroke:#263224"/>
<path d="M354.3 282.2V289.6M353 282.2h2.6M353 289.6h2.6M371.5 289.3V295M370.2 289.3h2.6M370.2 295h2.6M388.5 292.4V299.2M387.2 292.4h2.6M387.2 299.2h2.6M405.4 295V300.7M404.1 295h2.6M404.1 300.7h2.6M422.3 296.2V303M421 296.2h2.6M421 303h2.6M439.2 294.6V302M437.9 294.6h2.6M437.9 302h2.6M456.5 297.4V302.3M455.2 297.4h2.6M455.2 302.3h2.6" class="eb" style="stroke:#1e2440"/>
<path d="M354.3 294.2V303.5M353 294.2h2.6M353 303.5h2.6M371.5 298V310.4M370.2 298h2.6M370.2 310.4h2.6M388.5 318.8V326.5M387.2 318.8h2.6M387.2 326.5h2.6M405.4 327.2V336.2M404.1 327.2h2.6M404.1 336.2h2.6M456.5 342.8V348M455.2 342.8h2.6M455.2 348h2.6" class="eb" style="stroke:#2a1418"/>
<path d="M353 285.2h2.6v2.6h-2.6zM370.2 291.1h2.6v2.6h-2.6zM387.2 294.5h2.6v2.6h-2.6zM404.1 296.5h2.6v2.6h-2.6zM421 297.9h2.6v2.6h-2.6zM437.9 297.2h2.6v2.6h-2.6zM455.2 298.2h2.6v2.6h-2.6z" fill="#2a3766" stroke="none"/>
<path d="M353.3 287.4h2v2h-2zM370.5 297h2v2h-2zM387.5 305.2h2v2h-2zM404.4 308.7h2v2h-2zM421.3 322.8h2v2h-2zM438.2 340.5h2v2h-2zM455.5 348.2h2v2h-2z" fill="#3e6a2c" stroke="none"/>
<path d="M353.3 297.5h2v2h-2zM370.5 302.5h2v2h-2zM387.5 321.7h2v2h-2zM404.4 330.2h2v2h-2zM421.3 339.8h2v2h-2zM438.2 341h2v2h-2zM455.5 344.4h2v2h-2z" fill="#6a1028" stroke="none"/>
<path d="M444 308H456.5" class="bl" style="stroke-width:1.0"/>
<path d="M449.05 306.8h2.4v2.4h-2.4z" fill="#2a3766" stroke="none"/>
<text x="459" y="310.4" class="lg">Dex</text>
<path d="M444 316.7H456.5" class="gr" style="stroke-width:1.0"/>
<path d="M449.05 315.5h2.4v2.4h-2.4z" fill="#3e6a2c" stroke="none"/>
<text x="459" y="319.1" class="lg">Nintedanib</text>
<path d="M444 325.3H456.5" class="rd" style="stroke-width:1.0"/>
<path d="M449.05 324.1h2.4v2.4h-2.4z" fill="#6a1028" stroke="none"/>
<text x="459" y="327.7" class="lg">Dex+Nintedanib</text>
<text x="465.2" y="363.6" class="un">[Nint μM]</text>
<text x="465.2" y="383" class="un">[Dex μM]</text>
<path d="M36.2 400.1V480.6" class="ax"/>
<path d="M33 480.6H36.2" class="tk"/>
<text x="30.6" y="483.2" class="yl">0</text>
<path d="M33 461.23H36.2" class="tk"/>
<text x="30.6" y="463.83" class="yl">25</text>
<path d="M33 441.85H36.2" class="tk"/>
<text x="30.6" y="444.45" class="yl">50</text>
<path d="M33 422.48H36.2" class="tk"/>
<text x="30.6" y="425.08" class="yl">75</text>
<path d="M33 403.1H36.2" class="tk"/>
<text x="30.6" y="405.7" class="yl">100</text>
<path d="M35.4 480.6H152.7" class="ax"/>
<path d="M36.2 480.6V483.6" class="tk"/>
<text x="31.5" y="493" class="xl">10<tspan dx="0.1" dy="-3.5" class="sp">-1</tspan></text>
<path d="M92.5 480.6V483.6" class="tk"/>
<text x="87.8" y="493" class="xl">10<tspan dx="0.1" dy="-3.5" class="sp">0</tspan></text>
<path d="M148.8 480.6V483.6" class="tk"/>
<text x="144.1" y="493" class="xl">10<tspan dx="0.1" dy="-3.5" class="sp">1</tspan></text>
<path d="M35.4 499H152.7" class="ax"/>
<path d="M33 499H36.2" class="tk"/>
<text x="30.6" y="501.6" class="yl">0</text>
<path d="M36.2 499V502" class="tk"/>
<text x="31.5" y="511" class="xl">10<tspan dx="0.1" dy="-3.5" class="sp">-2</tspan></text>
<path d="M92.5 499V502" class="tk"/>
<text x="87.8" y="511" class="xl">10<tspan dx="0.1" dy="-3.5" class="sp">-1</tspan></text>
<path d="M148.8 499V502" class="tk"/>
<text x="144.1" y="511" class="xl">10<tspan dx="0.1" dy="-3.5" class="sp">0</tspan></text>
<text transform="translate(13.7 439.85) rotate(-90)" class="ylab">% cell viability</text>
<polyline points="47.7,428.5 64.6,446.2 81.5,475.5 98.2,479.2 115.1,480.2 132,480.4 148.8,480.5" class="rd"/>
<polyline points="47.7,408.5 64.6,418.9 81.5,419.2 98.2,441.5 115.1,459.2 132,472.3 148.8,479.5" class="gr"/>
<polyline points="47.7,409.7 64.6,413 81.5,413 98.2,412.5 115.1,413.5 132,416.2 148.8,418.2" class="bl"/>
<path d="M47.7 404.6V411.5M46.4 404.6h2.6M46.4 411.5h2.6M64.6 415.4V423M63.3 415.4h2.6M63.3 423h2.6M81.5 414.6V426.9M80.2 414.6h2.6M80.2 426.9h2.6M98.2 436.9V446.5M96.9 436.9h2.6M96.9 446.5h2.6M115.1 454.6V465.4M113.8 454.6h2.6M113.8 465.4h2.6M132 470V476.2M130.7 470h2.6M130.7 476.2h2.6" class="eb" style="stroke:#263224"/>
<path d="M47.7 406.9V411.8M46.4 406.9h2.6M46.4 411.8h2.6M64.6 410.8V415.4M63.3 410.8h2.6M63.3 415.4h2.6M81.5 410.8V415.4M80.2 410.8h2.6M80.2 415.4h2.6M98.2 409.2V415.7M96.9 409.2h2.6M96.9 415.7h2.6M115.1 410.5V416.6M113.8 410.5h2.6M113.8 416.6h2.6M132 414.6V418.5M130.7 414.6h2.6M130.7 418.5h2.6" class="eb" style="stroke:#1e2440"/>
<path d="M47.7 424.6V433M46.4 424.6h2.6M46.4 433h2.6M64.6 442.3V450.8M63.3 442.3h2.6M63.3 450.8h2.6" class="eb" style="stroke:#2a1418"/>
<path d="M46.4 408.4h2.6v2.6h-2.6zM63.3 411.7h2.6v2.6h-2.6zM80.2 411.7h2.6v2.6h-2.6zM96.9 411.2h2.6v2.6h-2.6zM113.8 412.2h2.6v2.6h-2.6zM130.7 414.9h2.6v2.6h-2.6zM147.5 416.9h2.6v2.6h-2.6z" fill="#2a3766" stroke="none"/>
<path d="M46.7 407.5h2v2h-2zM63.6 417.9h2v2h-2zM80.5 418.2h2v2h-2zM97.2 440.5h2v2h-2zM114.1 458.2h2v2h-2zM131 471.3h2v2h-2zM147.8 478.5h2v2h-2z" fill="#3e6a2c" stroke="none"/>
<path d="M46.7 427.5h2v2h-2zM63.6 445.2h2v2h-2zM80.5 474.5h2v2h-2zM97.2 478.2h2v2h-2zM114.1 479.2h2v2h-2zM131 479.4h2v2h-2zM147.8 479.5h2v2h-2z" fill="#6a1028" stroke="none"/>
<path d="M187.7 397V480.5" class="ax"/>
<path d="M184.5 480.5H187.7" class="tk"/>
<text x="182.1" y="483.1" class="yl">0</text>
<path d="M184.5 460.38H187.7" class="tk"/>
<text x="182.1" y="462.98" class="yl">25</text>
<path d="M184.5 440.25H187.7" class="tk"/>
<text x="182.1" y="442.85" class="yl">50</text>
<path d="M184.5 420.12H187.7" class="tk"/>
<text x="182.1" y="422.73" class="yl">75</text>
<path d="M184.5 400H187.7" class="tk"/>
<text x="182.1" y="402.6" class="yl">100</text>
<path d="M186.9 480.5H309.2" class="ax"/>
<path d="M188.5 480.5V483.5" class="tk"/>
<text x="183.8" y="492.9" class="xl">10<tspan dx="0.1" dy="-3.5" class="sp">-1</tspan></text>
<path d="M246.5 480.5V483.5" class="tk"/>
<text x="241.8" y="492.9" class="xl">10<tspan dx="0.1" dy="-3.5" class="sp">0</tspan></text>
<path d="M304.5 480.5V483.5" class="tk"/>
<text x="299.8" y="492.9" class="xl">10<tspan dx="0.1" dy="-3.5" class="sp">1</tspan></text>
<path d="M186.9 499H309.2" class="ax"/>
<path d="M184.5 499H187.7" class="tk"/>
<text x="182.1" y="501.6" class="yl">0</text>
<path d="M188.5 499V502" class="tk"/>
<text x="183.8" y="511" class="xl">10<tspan dx="0.1" dy="-3.5" class="sp">-2</tspan></text>
<path d="M246.5 499V502" class="tk"/>
<text x="241.8" y="511" class="xl">10<tspan dx="0.1" dy="-3.5" class="sp">-1</tspan></text>
<path d="M304.5 499V502" class="tk"/>
<text x="299.8" y="511" class="xl">10<tspan dx="0.1" dy="-3.5" class="sp">0</tspan></text>
<text transform="translate(165.4 438.25) rotate(-90)" class="ylab">% cell viability</text>
<polyline points="199.2,424.6 216.9,429.7 234.6,438.5 252.3,445.4 270,453.8 287.4,464.6 304.9,480.5" class="rd"/>
<polyline points="199.2,400.8 216.9,401.1 234.6,404.6 252.3,406.6 270,413.4 287.4,438.5 304.9,473" class="gr"/>
<polyline points="199.2,416.2 216.9,421.5 234.6,424.6 252.3,427.2 270,425.7 287.4,426.2 304.9,427.7" class="bl"/>
<path d="M252.3 401.5V412.3M251 401.5h2.6M251 412.3h2.6M287.4 435.4V442.3M286.1 435.4h2.6M286.1 442.3h2.6M304.9 470V479M303.6 470h2.6M303.6 479h2.6" class="eb" style="stroke:#263224"/>
<path d="M199.2 413.8V419.2M197.9 413.8h2.6M197.9 419.2h2.6M216.9 419.2V425.4M215.6 419.2h2.6M215.6 425.4h2.6M234.6 422.3V426.9M233.3 422.3h2.6M233.3 426.9h2.6M252.3 425V430.3M251 425h2.6M251 430.3h2.6M270 423V428.2M268.7 423h2.6M268.7 428.2h2.6M287.4 423.8V428.5M286.1 423.8h2.6M286.1 428.5h2.6M304.9 425.4V430.8M303.6 425.4h2.6M303.6 430.8h2.6" class="eb" style="stroke:#1e2440"/>
<path d="M199.2 420.8V429.2M197.9 420.8h2.6M197.9 429.2h2.6M216.9 424.6V434.6M215.6 424.6h2.6M215.6 434.6h2.6M234.6 435.4V441.5M233.3 435.4h2.6M233.3 441.5h2.6M252.3 443.5V447.7M251 443.5h2.6M251 447.7h2.6" class="eb" style="stroke:#2a1418"/>
<path d="M197.9 414.9h2.6v2.6h-2.6zM215.6 420.2h2.6v2.6h-2.6zM233.3 423.3h2.6v2.6h-2.6zM251 425.9h2.6v2.6h-2.6zM268.7 424.4h2.6v2.6h-2.6zM286.1 424.9h2.6v2.6h-2.6zM303.6 426.4h2.6v2.6h-2.6z" fill="#2a3766" stroke="none"/>
<path d="M198.2 399.8h2v2h-2zM215.9 400.1h2v2h-2zM233.6 403.6h2v2h-2zM251.3 405.6h2v2h-2zM269 412.4h2v2h-2zM286.4 437.5h2v2h-2zM303.9 472h2v2h-2z" fill="#3e6a2c" stroke="none"/>
<path d="M198.2 423.6h2v2h-2zM215.9 428.7h2v2h-2zM233.6 437.5h2v2h-2zM251.3 444.4h2v2h-2zM269 452.8h2v2h-2zM286.4 463.6h2v2h-2zM303.9 479.5h2v2h-2z" fill="#6a1028" stroke="none"/>
<path d="M344.2 400.5V480.7" class="ax"/>
<path d="M341 480.7H344.2" class="tk"/>
<text x="338.6" y="483.3" class="yl">0</text>
<path d="M341 461.4H344.2" class="tk"/>
<text x="338.6" y="464" class="yl">25</text>
<path d="M341 442.1H344.2" class="tk"/>
<text x="338.6" y="444.7" class="yl">50</text>
<path d="M341 422.8H344.2" class="tk"/>
<text x="338.6" y="425.4" class="yl">75</text>
<path d="M341 403.5H344.2" class="tk"/>
<text x="338.6" y="406.1" class="yl">100</text>
<path d="M343.4 480.7H459.7" class="ax"/>
<path d="M344.2 480.7V483.7" class="tk"/>
<text x="339.5" y="493.1" class="xl">10<tspan dx="0.1" dy="-3.5" class="sp">0</tspan></text>
<path d="M400.7 480.7V483.7" class="tk"/>
<text x="396" y="493.1" class="xl">10<tspan dx="0.1" dy="-3.5" class="sp">1</tspan></text>
<path d="M457.2 480.7V483.7" class="tk"/>
<text x="450.7" y="493.1" class="xl">10<tspan dx="0.1" dy="-3.5" class="sp">2</tspan></text>
<path d="M343.4 499.8H459.7" class="ax"/>
<path d="M341 499.8H344.2" class="tk"/>
<text x="338.6" y="502.4" class="yl">0</text>
<path d="M344.2 499.8V502.8" class="tk"/>
<text x="339.5" y="511.8" class="xl">10<tspan dx="0.1" dy="-3.5" class="sp">-1</tspan></text>
<path d="M400.7 499.8V502.8" class="tk"/>
<text x="396" y="511.8" class="xl">10<tspan dx="0.1" dy="-3.5" class="sp">0</tspan></text>
<path d="M457.2 499.8V502.8" class="tk"/>
<text x="452.5" y="511.8" class="xl">10<tspan dx="0.1" dy="-3.5" class="sp">1</tspan></text>
<text transform="translate(321.9 440.1) rotate(-90)" class="ylab">% cell viability</text>
<polyline points="354.3,427 371.5,439.2 388.8,448.5 406,474.2 422.8,478.5 440,480 457.2,480.5" class="rd"/>
<polyline points="354.3,418.5 371.5,423.8 388.8,433 406,470 422.8,477.7 440,480 457.2,480.5" class="gr"/>
<polyline points="354.3,413.8 371.5,420 388.8,423.5 406,426.2 422.8,427.7 440,426.5 457.2,428.2" class="bl"/>
<path d="M354.3 416V423M353 416h2.6M353 423h2.6M371.5 420.8V427.7M370.2 420.8h2.6M370.2 427.7h2.6M388.8 430.8V435.4M387.5 430.8h2.6M387.5 435.4h2.6M406 467.5V473.5M404.7 467.5h2.6M404.7 473.5h2.6" class="eb" style="stroke:#263224"/>
<path d="M354.3 411.2V416.2M353 411.2h2.6M353 416.2h2.6M371.5 416.9V423.1M370.2 416.9h2.6M370.2 423.1h2.6M388.8 420V426.9M387.5 420h2.6M387.5 426.9h2.6M406 423.1V428.5M404.7 423.1h2.6M404.7 428.5h2.6M422.8 424.3V431.5M421.5 424.3h2.6M421.5 431.5h2.6M440 423.1V429.5M438.7 423.1h2.6M438.7 429.5h2.6M457.2 426.2V430.5M455.9 426.2h2.6M455.9 430.5h2.6" class="eb" style="stroke:#1e2440"/>
<path d="M354.3 424.6V430.3M353 424.6h2.6M353 430.3h2.6M388.8 446.2V451.5M387.5 446.2h2.6M387.5 451.5h2.6" class="eb" style="stroke:#2a1418"/>
<path d="M353 412.5h2.6v2.6h-2.6zM370.2 418.7h2.6v2.6h-2.6zM387.5 422.2h2.6v2.6h-2.6zM404.7 424.9h2.6v2.6h-2.6zM421.5 426.4h2.6v2.6h-2.6zM438.7 425.2h2.6v2.6h-2.6zM455.9 426.9h2.6v2.6h-2.6z" fill="#2a3766" stroke="none"/>
<path d="M353.3 417.5h2v2h-2zM370.5 422.8h2v2h-2zM387.8 432h2v2h-2zM405 469h2v2h-2zM421.8 476.7h2v2h-2zM439 479h2v2h-2zM456.2 479.5h2v2h-2z" fill="#3e6a2c" stroke="none"/>
<path d="M353.3 426h2v2h-2zM370.5 438.2h2v2h-2zM387.8 447.5h2v2h-2zM405 473.2h2v2h-2zM421.8 477.5h2v2h-2zM439 479h2v2h-2zM456.2 479.5h2v2h-2z" fill="#6a1028" stroke="none"/>
<path d="M445.4 444.3H457.3" class="bl" style="stroke-width:1.0"/>
<path d="M450.15 443.1h2.4v2.4h-2.4z" fill="#2a3766" stroke="none"/>
<text x="460" y="446.7" class="lg">Dex</text>
<path d="M445.4 453.2H457.3" class="gr" style="stroke-width:1.0"/>
<path d="M450.15 452h2.4v2.4h-2.4z" fill="#3e6a2c" stroke="none"/>
<text x="460" y="455.6" class="lg">WH-4-023</text>
<path d="M445.4 461.3H457.3" class="rd" style="stroke-width:1.0"/>
<path d="M450.15 460.1h2.4v2.4h-2.4z" fill="#6a1028" stroke="none"/>
<text x="460" y="463.7" class="lg">Dex+WH-4-023</text>
<text x="467.1" y="493" class="un">[WH μM]</text>
<text x="467.1" y="512.3" class="un">[Dex μM]</text>
</svg>
</body></html>
